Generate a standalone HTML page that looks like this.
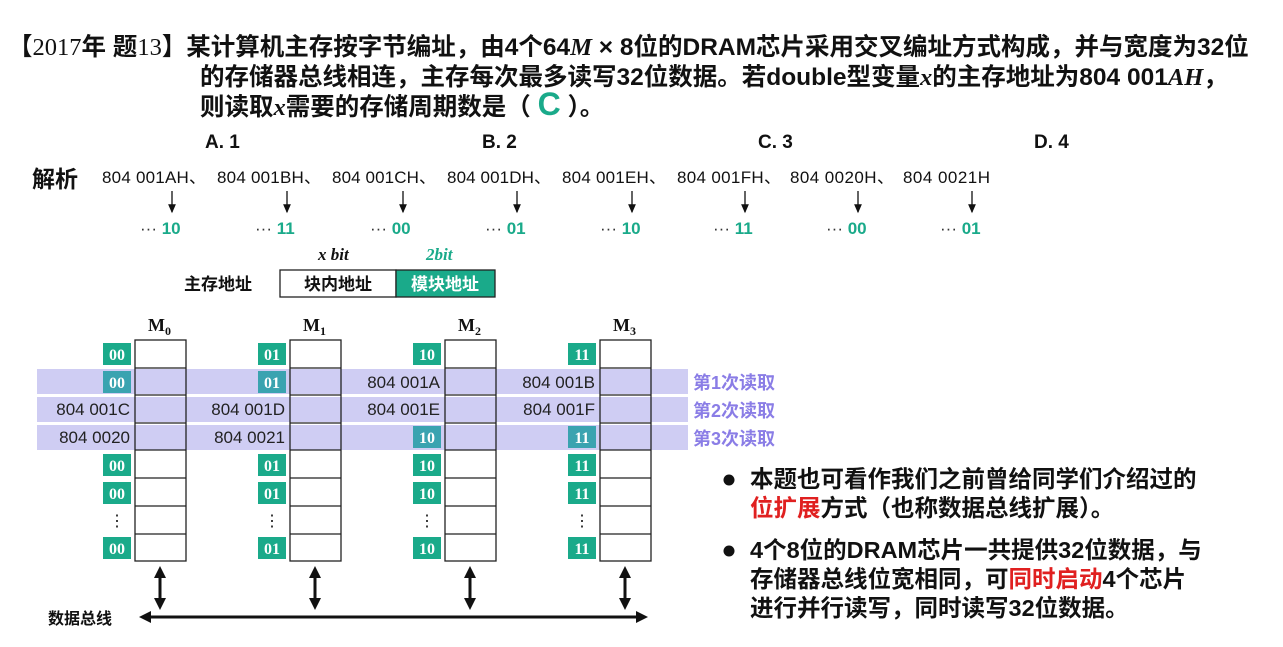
<!DOCTYPE html>
<html><head><meta charset="utf-8">
<style>
body{margin:0;width:1283px;height:647px;background:#fff;overflow:hidden;position:relative;font-family:"Liberation Sans","Noto Sans CJK SC",sans-serif;}
.t{position:absolute;white-space:nowrap;font-weight:bold;color:#111;}
</style></head><body>
<div class="t" style="left:8px;top:28px;font-size:24.5px;">【<span style="font-family:'Liberation Serif','Noto Serif CJK SC',serif;font-weight:normal">2017</span>年 题<span style="font-family:'Liberation Serif',serif;font-weight:normal">13</span>】某计算机主存按字节编址，由4个64<i style="font-family:'Liberation Serif',serif">M</i> × 8位的DRAM芯片采用交叉编址方式构成，并与宽度为32位</div>
<div class="t" style="left:200px;top:58px;font-size:24.5px;">的存储器总线相连，主存每次最多读写32位数据。若double型变量<i style="font-family:'Liberation Serif',serif">x</i>的主存地址为804 001<i style="font-family:'Liberation Serif',serif">AH</i>，</div>
<div class="t" style="left:200px;top:88px;font-size:24.5px;">则读取<i style="font-family:'Liberation Serif',serif">x</i>需要的存储周期数是（ <span style="color:#1aaa8a;font-size:32px;line-height:22px">C</span> ）。</div>
<div class="t" style="left:205px;top:132px;font-size:19px;">A. 1</div>
<div class="t" style="left:482px;top:132px;font-size:19px;">B. 2</div>
<div class="t" style="left:758px;top:132px;font-size:19px;">C. 3</div>
<div class="t" style="left:1034px;top:132px;font-size:19px;">D. 4</div>
<div class="t" style="left:32px;top:160px;font-size:23px;">解析</div>
<svg width="1283" height="647" style="position:absolute;left:0;top:0" font-family="Liberation Sans, Noto Sans CJK SC, sans-serif">
<defs>
<marker id="a" markerWidth="8" markerHeight="8" refX="6" refY="4" orient="auto"><path d="M0,1 L7,4 L0,7 z" fill="#111"/></marker>
<marker id="b" markerWidth="4" markerHeight="4" refX="3" refY="2" orient="auto-start-reverse"><path d="M0,0 L4,2 L0,4 z" fill="#111"/></marker>
</defs>
<g font-size="17" fill="#111">
<text x="102" y="183" textLength="104">804 001AH、</text>
<text x="217" y="183" textLength="104">804 001BH、</text>
<text x="332" y="183" textLength="104">804 001CH、</text>
<text x="447" y="183" textLength="104">804 001DH、</text>
<text x="562" y="183" textLength="104">804 001EH、</text>
<text x="677" y="183" textLength="104">804 001FH、</text>
<text x="790" y="183" textLength="104">804 0020H、</text>
<text x="903" y="183" textLength="87">804 0021H</text>
</g>
<g stroke="#111" stroke-width="1.3">
<line x1="172" y1="191" x2="172" y2="212" marker-end="url(#a)"/>
<line x1="287" y1="191" x2="287" y2="212" marker-end="url(#a)"/>
<line x1="403" y1="191" x2="403" y2="212" marker-end="url(#a)"/>
<line x1="517" y1="191" x2="517" y2="212" marker-end="url(#a)"/>
<line x1="632" y1="191" x2="632" y2="212" marker-end="url(#a)"/>
<line x1="745" y1="191" x2="745" y2="212" marker-end="url(#a)"/>
<line x1="858" y1="191" x2="858" y2="212" marker-end="url(#a)"/>
<line x1="972" y1="191" x2="972" y2="212" marker-end="url(#a)"/>
</g>
<g font-size="17" font-weight="bold">
<text x="140" y="234"><tspan fill="#333" font-weight="normal">··· </tspan><tspan fill="#1aaa8a">10</tspan></text>
<text x="255" y="234"><tspan fill="#333" font-weight="normal">··· </tspan><tspan fill="#1aaa8a">11</tspan></text>
<text x="370" y="234"><tspan fill="#333" font-weight="normal">··· </tspan><tspan fill="#1aaa8a">00</tspan></text>
<text x="485" y="234"><tspan fill="#333" font-weight="normal">··· </tspan><tspan fill="#1aaa8a">01</tspan></text>
<text x="600" y="234"><tspan fill="#333" font-weight="normal">··· </tspan><tspan fill="#1aaa8a">10</tspan></text>
<text x="713" y="234"><tspan fill="#333" font-weight="normal">··· </tspan><tspan fill="#1aaa8a">11</tspan></text>
<text x="826" y="234"><tspan fill="#333" font-weight="normal">··· </tspan><tspan fill="#1aaa8a">00</tspan></text>
<text x="940" y="234"><tspan fill="#333" font-weight="normal">··· </tspan><tspan fill="#1aaa8a">01</tspan></text>
</g>
<text x="318" y="260" font-family="Liberation Serif,serif" font-style="italic" font-weight="bold" font-size="17" fill="#111">x bit</text>
<text x="426" y="260" font-family="Liberation Serif,serif" font-style="italic" font-weight="bold" font-size="17" fill="#1aaa8a">2bit</text>
<text x="184" y="290" font-size="17" font-weight="bold" fill="#111">主存地址</text>
<rect x="280" y="270" width="116" height="27" fill="#fff" stroke="#222" stroke-width="1.3"/>
<rect x="396" y="270" width="99" height="27" fill="#1aaa8a" stroke="#222" stroke-width="1.3"/>
<text x="338" y="290" font-size="17" font-weight="bold" fill="#111" text-anchor="middle">块内地址</text>
<text x="445" y="290" font-size="17" font-weight="bold" fill="#fff" text-anchor="middle">模块地址</text>
<rect x="37" y="369" width="651" height="25" fill="#cfcdf3"/>
<rect x="37" y="397" width="651" height="25" fill="#cfcdf3"/>
<rect x="37" y="425" width="651" height="25" fill="#cfcdf3"/>
<g font-size="18" font-weight="bold" fill="#8a7de6">
<text x="693" y="389">第1次读取</text>
<text x="693" y="417">第2次读取</text>
<text x="693" y="445">第3次读取</text>
</g>
<g font-family="Liberation Serif,serif" font-weight="bold" font-size="18" fill="#111">
<text x="148" y="331">M<tspan font-size="12" dy="4">0</tspan></text>
<text x="303" y="331">M<tspan font-size="12" dy="4">1</tspan></text>
<text x="458" y="331">M<tspan font-size="12" dy="4">2</tspan></text>
<text x="613" y="331">M<tspan font-size="12" dy="4">3</tspan></text>
</g>
<g fill="none" stroke="#222" stroke-width="1.3">
<rect x="135" y="340" width="51" height="221"/><rect x="290" y="340" width="51" height="221"/><rect x="445" y="340" width="51" height="221"/><rect x="600" y="340" width="51" height="221"/>
<path d="M135 368H186M135 395H186M135 423H186M135 450H186M135 478H186M135 506H186M135 534H186"/>
<path d="M290 368H341M290 395H341M290 423H341M290 450H341M290 478H341M290 506H341M290 534H341"/>
<path d="M445 368H496M445 395H496M445 423H496M445 450H496M445 478H496M445 506H496M445 534H496"/>
<path d="M600 368H651M600 395H651M600 423H651M600 450H651M600 478H651M600 506H651M600 534H651"/>
</g>
<g font-family="Liberation Serif,serif" font-weight="bold" font-size="16" fill="#fff" text-anchor="middle">
<g fill="#1aaa8a">
<rect x="103" y="343" width="28" height="22"/><rect x="258" y="343" width="28" height="22"/><rect x="413" y="343" width="28" height="22"/><rect x="568" y="343" width="28" height="22"/>
<rect x="103" y="454" width="28" height="22"/><rect x="258" y="454" width="28" height="22"/><rect x="413" y="454" width="28" height="22"/><rect x="568" y="454" width="28" height="22"/>
<rect x="103" y="482" width="28" height="22"/><rect x="258" y="482" width="28" height="22"/><rect x="413" y="482" width="28" height="22"/><rect x="568" y="482" width="28" height="22"/>
<rect x="103" y="537" width="28" height="22"/><rect x="258" y="537" width="28" height="22"/><rect x="413" y="537" width="28" height="22"/><rect x="568" y="537" width="28" height="22"/>
</g>
<g fill="#3aa3b0">
<rect x="103" y="371" width="28" height="22"/><rect x="258" y="371" width="28" height="22"/>
<rect x="413" y="426" width="28" height="22"/><rect x="568" y="426" width="28" height="22"/>
</g>
<text x="117" y="360">00</text><text x="272" y="360">01</text><text x="427" y="360">10</text><text x="582" y="360">11</text>
<text x="117" y="388">00</text><text x="272" y="388">01</text>
<text x="427" y="443">10</text><text x="582" y="443">11</text>
<text x="117" y="471">00</text><text x="272" y="471">01</text><text x="427" y="471">10</text><text x="582" y="471">11</text>
<text x="117" y="499">00</text><text x="272" y="499">01</text><text x="427" y="499">10</text><text x="582" y="499">11</text>
<text x="117" y="554">00</text><text x="272" y="554">01</text><text x="427" y="554">10</text><text x="582" y="554">11</text>
</g>
<g font-size="16" fill="#111" text-anchor="middle">
<text x="117" y="526">⋮</text><text x="272" y="526">⋮</text><text x="427" y="526">⋮</text><text x="582" y="526">⋮</text>
</g>
<g font-size="17" fill="#222" text-anchor="end">
<text x="440" y="388">804 001A</text><text x="595" y="388">804 001B</text>
<text x="130" y="415">804 001C</text><text x="285" y="415">804 001D</text><text x="440" y="415">804 001E</text><text x="595" y="415">804 001F</text>
<text x="130" y="443">804 0020</text><text x="285" y="443">804 0021</text>
</g>
<g stroke="#111" stroke-width="3">
<line x1="142" y1="617" x2="645" y2="617" marker-start="url(#b)" marker-end="url(#b)"/>
<line x1="160" y1="569" x2="160" y2="607" marker-start="url(#b)" marker-end="url(#b)"/>
<line x1="315" y1="569" x2="315" y2="607" marker-start="url(#b)" marker-end="url(#b)"/>
<line x1="470" y1="569" x2="470" y2="607" marker-start="url(#b)" marker-end="url(#b)"/>
<line x1="625" y1="569" x2="625" y2="607" marker-start="url(#b)" marker-end="url(#b)"/>
</g>
<text x="48" y="624" font-size="16" font-weight="bold" fill="#111">数据总线</text>
<circle cx="729" cy="480" r="5.5" fill="#111"/>
<circle cx="729" cy="551" r="5.5" fill="#111"/>
</svg>
<div class="t" style="left:750px;top:465px;font-size:23.5px;line-height:29px;">本题也可看作我们之前曾给同学们介绍过的<br><span style="color:#e02020">位扩展</span>方式（也称数据总线扩展）。</div>
<div class="t" style="left:750px;top:536px;font-size:23.5px;line-height:29px;">4个8位的DRAM芯片一共提供32位数据，与<br>存储器总线位宽相同，可<span style="color:#e02020">同时启动</span>4个芯片<br>进行并行读写，同时读写32位数据。</div>
</body></html>
